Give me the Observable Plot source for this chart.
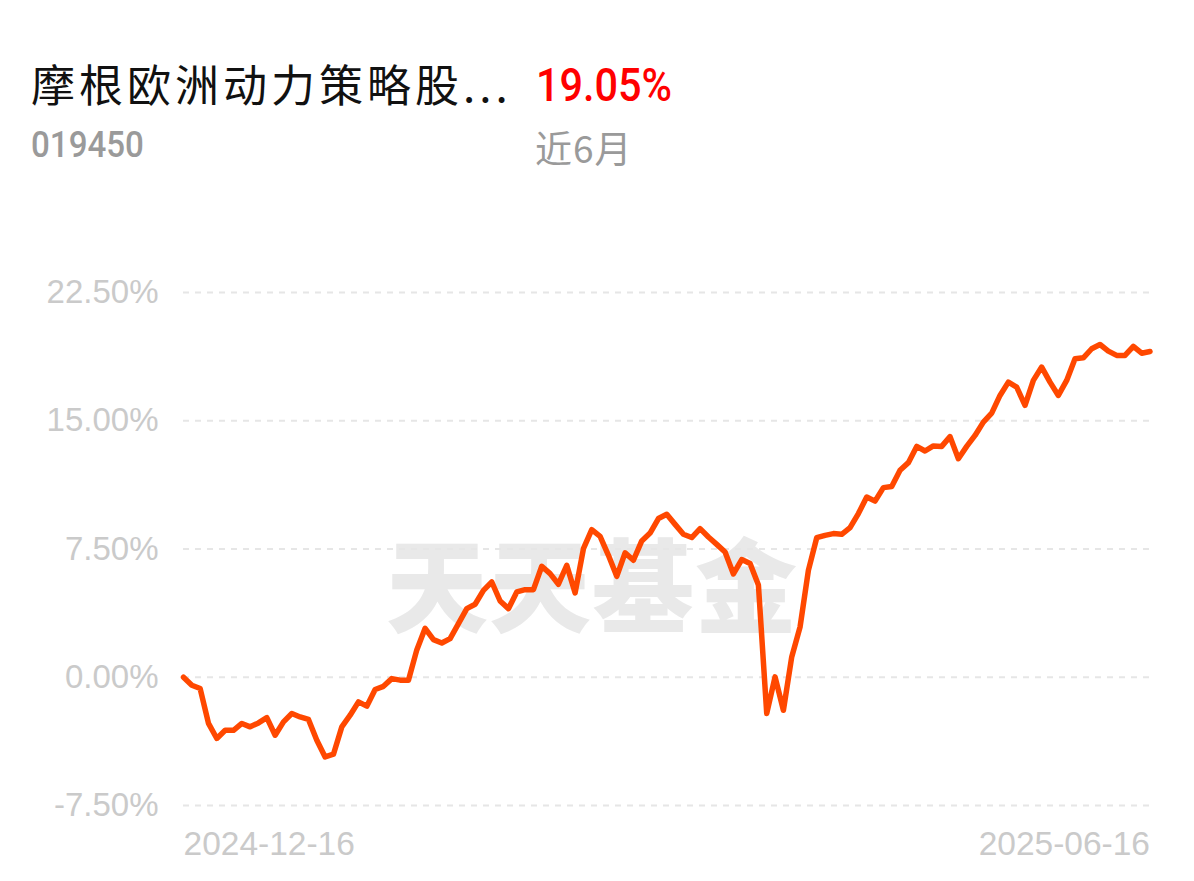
<!DOCTYPE html>
<html>
<head>
<meta charset="utf-8">
<script src="https://cdn.jsdelivr.net/npm/d3@7"></script>
<script src="https://cdn.jsdelivr.net/npm/@observablehq/plot@0.6"></script>
<style>
  html, body { margin: 0; padding: 0; background: #ffffff; }
  #page { position: relative; width: 1194px; height: 881px; overflow: hidden; }
  #header { position: relative; width: 1194px; height: 260px; }
  .t { position: absolute; white-space: nowrap; line-height: 1; }
  #title { left: 31px; top: 61px; font-family: "Noto Sans CJK SC", sans-serif; font-size: 44px; letter-spacing: 4px; color: #111; }
  #ret { left: 536px; top: 62px; font-family: Roboto, "Noto Sans", sans-serif; font-weight: 500; font-size: 46px; color: #f00; transform: scaleX(0.9); transform-origin: left top; }
  #code { left: 31px; top: 127px; font-family: Roboto, "Noto Sans", sans-serif; font-weight: 500; font-size: 36px; color: #9a9a9a; transform: scaleX(0.92); transform-origin: left top; }
  #period { left: 535px; top: 129px; font-family: "Noto Sans CJK SC", sans-serif; font-size: 37px; letter-spacing: 1px; color: #9a9a9a; }
  #chartwrap { position: relative; width: 1194px; height: 621px; }
  #watermark { position: absolute; left: 386px; top: 270px; font-family: "Noto Sans CJK SC", serif; font-weight: 900; font-size: 102px; letter-spacing: 1px; color: #e9e9e9; z-index: 0; white-space: nowrap; line-height: 1; }
  #chart { position: relative; z-index: 1; }
</style>
</head>
<body>
<div id="page">
  <div id="header">
    <div class="t" id="title"></div>
    <div class="t" id="ret"></div>
    <div class="t" id="code"></div>
    <div class="t" id="period"></div>
  </div>
  <div id="chartwrap">
    <div id="watermark"></div>
    <div id="chart"></div>
  </div>
</div>
<script>
// ---- data ----
const fundName = "摩根欧洲动力策略股...";
const fundCode = "019450";
const periodReturn = "19.05%";
const periodLabel = "近6月";
const watermarkText = "天天基金";

const xTickLabels = ["2024-12-16", "2025-06-16"];
const yTicks = [-7.5, 0, 7.5, 15, 22.5];

// cumulative return (%) per trading day
const returns = [
  0, -0.47, -0.66, -2.7, -3.58, -3.1, -3.1, -2.7, -2.9, -2.67,
  -2.36, -3.39, -2.61, -2.12, -2.32, -2.47, -3.68, -4.66, -4.5, -2.9,
  -2.22, -1.44, -1.69, -0.72, -0.53, -0.08, -0.17, -0.17, 1.6, 2.86,
  2.2, 2.0, 2.26, 3.14, 4.01, 4.27, 5.08, 5.57, 4.46, 4.01,
  4.99, 5.12, 5.12, 6.49, 6.06, 5.44, 6.55, 4.93, 7.52, 8.63,
  8.24, 7.13, 5.9, 7.27, 6.84, 7.97, 8.43, 9.28, 9.53, 8.94,
  8.36, 8.17, 8.69, 8.2, 7.77, 7.32, 6.04, 6.88, 6.65, 5.4,
  -2.12, 0.02, -1.93, 1.19, 2.94, 6.25, 8.16, 8.3, 8.4, 8.36,
  8.75, 9.57, 10.54, 10.3, 11.09, 11.16, 12.1, 12.55, 13.5, 13.23,
  13.53, 13.5, 14.07, 12.78, 13.5, 14.14, 14.92, 15.45, 16.48, 17.26,
  16.97, 15.9, 17.36, 18.14, 17.26, 16.48, 17.36, 18.63, 18.68, 19.21,
  19.46, 19.07, 18.82, 18.82, 19.35, 18.95, 19.05
];

// ---- header ----
document.getElementById("title").textContent = fundName;
document.getElementById("ret").textContent = periodReturn;
document.getElementById("code").textContent = fundCode;
document.getElementById("period").textContent = periodLabel;
document.getElementById("watermark").textContent = watermarkText;

// ---- chart ----
const series = returns.map((v, i) => ({i, v}));
const lastIndex = returns.length - 1;
const firstTick = [{i: 0, label: xTickLabels[0]}];
const lastTick = [{i: lastIndex, label: xTickLabels[1]}];

const svg = Plot.plot({
  width: 1194,
  height: 621,
  marginLeft: 183,
  marginRight: 44.5,
  marginTop: 32,
  marginBottom: 76,
  style: {
    background: "transparent",
    fontFamily: "'Liberation Sans', Arial, sans-serif",
    fontSize: "33px",
    color: "#cacaca"
  },
  x: {domain: [0, lastIndex], axis: null},
  y: {
    domain: [-7.5, 22.5],
    ticks: yTicks,
    tickFormat: d => d.toFixed(2) + "%",
    tickSize: 0,
    tickPadding: 25,
    label: null
  },
  marks: [
    Plot.ruleY(yTicks, {stroke: "#e6e6e6", strokeWidth: 2, strokeDasharray: "6,6"}),
    Plot.line(series, {x: "i", y: "v", stroke: "#ff4800", strokeWidth: 5.5, strokeLinejoin: "round", strokeLinecap: "round"}),
    Plot.text(firstTick, {x: "i", text: "label", frameAnchor: "bottom", dy: 49, textAnchor: "start", fill: "#cacaca", fontSize: 33.5}),
    Plot.text(lastTick, {x: "i", text: "label", frameAnchor: "bottom", dy: 49, textAnchor: "end", fill: "#cacaca", fontSize: 33.5})
  ]
});

document.getElementById("chart").appendChild(svg);
</script>
</body>
</html>
